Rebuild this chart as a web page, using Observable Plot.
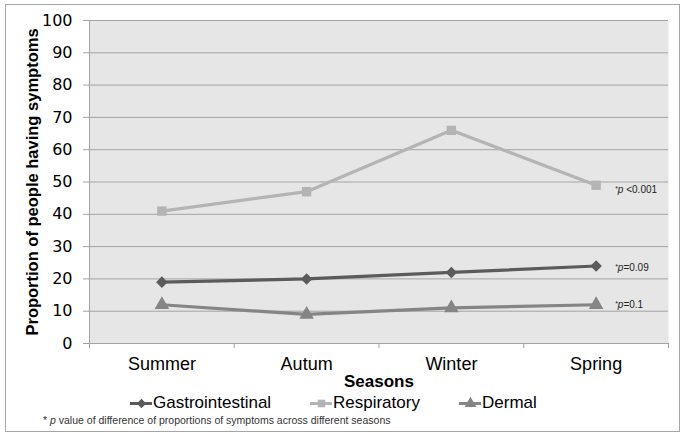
<!DOCTYPE html>
<html><head><meta charset="utf-8">
<script src="https://cdn.jsdelivr.net/npm/d3@7"></script>
<script src="https://cdn.jsdelivr.net/npm/@observablehq/plot@0.6"></script>
<style>
body{margin:0;background:#fff;font-family:"Liberation Sans",Arial,sans-serif;}
#wrap{position:relative;width:685px;height:436px;overflow:hidden;}
#border{position:absolute;left:5px;top:4px;width:673px;height:426px;border:1px solid #a6a6a6;}
#chart{position:absolute;left:0;top:0;}
.leg{position:absolute;top:393px;height:20px;display:flex;align-items:center;font-size:17px;color:#000;white-space:nowrap;}
.leg svg{margin-right:1px;}
#note{position:absolute;left:43px;top:414px;font-size:10.5px;color:#333;white-space:nowrap;}
</style></head><body>
<div id="wrap"><div id="border"></div><div id="chart"></div>
<div class="leg" id="leg0" style="left:130px"></div>
<div class="leg" id="leg1" style="left:310px"></div>
<div class="leg" id="leg2" style="left:459px"></div>
<div id="note">* <i>p</i> value of difference of proportions of symptoms across different seasons</div>
</div>
<script>
const seasons = ["Summer", "Autum", "Winter", "Spring"];
const seriesNames = ["Gastrointestinal", "Respiratory", "Dermal"];
const gastro = [19, 20, 22, 24];
const respiratory = [41, 47, 66, 49];
const dermal = [12, 9, 11, 12];
const pLabels = ["*p=0.09", "*p <0.001", "*p=0.1"];
const yTicks = [0, 10, 20, 30, 40, 50, 60, 70, 80, 90, 100];

const colors = ["#5b5b5b", "#b4b4b4", "#858585"];
const symbols = ["diamond2", "square", "triangle"];
const radii = [5.2, 5.3, 5.4];
const labelDy = [2, 5, 0];
const valuesBySeries = [gastro, respiratory, dermal];

const data = [];
seriesNames.forEach((s, k) => valuesBySeries[k].forEach((v, i) => data.push({series: s, season: seasons[i], xi: i + 0.5, value: v})));

const grid = "#a3a3a3";
const marks = [
  Plot.frame({fill: "#e6e6e6", stroke: null}),
  Plot.gridY(yTicks.filter(d => d > 0), {stroke: grid, strokeOpacity: 1, strokeWidth: 1}),
  Plot.ruleX([0], {stroke: grid}),
  Plot.ruleY([0], {stroke: grid}),
  Plot.axisY({ticks: yTicks, tickSize: 6, tickPadding: 11, fontSize: 16, stroke: grid, label: null, fontFamily: "DejaVu Sans", fill: "#000"}),
  Plot.axisX({ticks: [0, 1, 2, 3, 4], tickSize: 5, tickFormat: () => "", stroke: grid, label: null}),
  Plot.axisX({ticks: seasons.map((d, i) => i + 0.5), tickSize: 0, tickPadding: 14, tickFormat: d => seasons[Math.floor(d)], fontSize: 18, label: null, fill: "#000"}),
  Plot.text(["Seasons"], {frameAnchor: "bottom", dy: 43, fontSize: 17, fontWeight: "bold", fill: "#000"}),
  Plot.text(["Proportion of people having symptoms"], {frameAnchor: "left", textAnchor: "middle", rotate: -90, dx: -57, fontSize: 16.5, fontWeight: "bold", fill: "#000"})
];
seriesNames.forEach((s, k) => {
  const d = data.filter(r => r.series === s);
  marks.push(Plot.line(d, {x: "xi", y: "value", stroke: colors[k], strokeWidth: 3.2}));
  marks.push(Plot.dot(d, {x: "xi", y: "value", symbol: symbols[k], fill: colors[k], r: radii[k]}));
  const last = d[d.length - 1];
  marks.push(Plot.text([last], {x: "xi", y: "value", text: () => pLabels[k], dx: 19, dy: labelDy[k], textAnchor: "start", fontSize: 10, fill: "#222"}));
});

const plot = Plot.plot({
  width: 685, height: 392,
  marginLeft: 89, marginRight: 17, marginTop: 20, marginBottom: 49,
  style: {fontFamily: "Liberation Sans, Arial, sans-serif", background: "transparent", overflow: "visible"},
  x: {type: "linear", domain: [0, seasons.length], axis: null},
  y: {domain: [0, 100], axis: null},
  marks
});
document.getElementById("chart").appendChild(plot);

// italicise the "p" in the p-value labels
plot.querySelectorAll("text").forEach(t => {
  const s = t.textContent;
  if (s.startsWith("*p")) {
    t.textContent = "";
    const ns = "http://www.w3.org/2000/svg";
    const a = document.createElementNS(ns, "tspan"); a.textContent = "*"; a.setAttribute("font-size", "7"); a.setAttribute("dy", "-2");
    const b = document.createElementNS(ns, "tspan"); b.textContent = "p"; b.setAttribute("font-style", "italic"); b.setAttribute("dy", "2");
    const c = document.createElementNS(ns, "tspan"); c.textContent = s.slice(2);
    t.append(a, b, c);
  }
});

// legend
seriesNames.forEach((s, k) => {
  const el = document.getElementById("leg" + k);
  const sw = Plot.plot({
    width: 22, height: 14, margin: 0,
    x: {domain: [0, 1], axis: null}, y: {domain: [0, 1], axis: null},
    style: {background: "transparent", overflow: "visible"},
    marks: [
      Plot.ruleY([0.5], {stroke: colors[k], strokeWidth: 3}),
      Plot.dot([0.5], {x: d => d, y: d => d, symbol: symbols[k], fill: colors[k], r: radii[k] - 1})
    ]
  });
  el.appendChild(sw);
  const span = document.createElement("span");
  span.textContent = s;
  el.appendChild(span);
});
</script>
</body></html>
